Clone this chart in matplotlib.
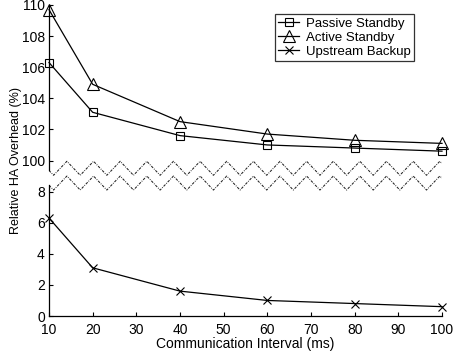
import matplotlib.pyplot as plt
import numpy as np

plt.rcParams['font.family'] = ['Liberation Sans', 'DejaVu Sans']
plt.rcParams['font.size'] = 10

# data
interval = [10, 20, 40, 60, 80, 100]
passive = [106.3, 103.1, 101.6, 101.0, 100.8, 100.6]
active = [109.7, 104.9, 102.5, 101.7, 101.3, 101.1]
upstream = [6.3, 3.1, 1.6, 1.0, 0.8, 0.6]

# upper block (100..110) is shifted down by 90 so it sits above 0..8
shift = 90
yticks = [0, 2, 4, 6, 8, 10, 12, 14, 16, 18, 20]
ylabels = ['0', '2', '4', '6', '8', '100', '102', '104', '106', '108', '110']

fig = plt.figure(figsize=(4.56, 3.52), dpi=100)
ax = fig.add_axes([49/456, 1-316/352, 393/456, 311/352])

ax.plot(interval, [v-shift for v in passive], color='black', linewidth=0.9,
        marker='s', markersize=6, markerfacecolor='none', markeredgewidth=0.8,
        label='Passive Standby', clip_on=False)
ax.plot(interval, [v-shift for v in active], color='black', linewidth=0.9,
        marker='^', markersize=8, markerfacecolor='none', markeredgewidth=0.8,
        label='Active Standby', clip_on=False)
ax.plot(interval, upstream, color='black', linewidth=0.9,
        marker='x', markersize=6, markeredgewidth=0.8,
        label='Upstream Backup', clip_on=False)

# zigzag break marks
zx = [10]
zy = [9.36]
k = 0
while True:
    t = 11.05 + 6.1*k
    if t > 100:
        break
    zx.append(t); zy.append(9.05)
    p = t + 3.05
    if p > 100:
        break
    zx.append(p); zy.append(9.95)
    k += 1
last_x, last_y = zx[-1], zy[-1]
frac = (100 - last_x) / 3.05
end_y = last_y + (9.95 - 9.05) * frac * (1 if last_y < 9.5 else -1)
zx.append(100); zy.append(end_y)
zstyle = (0, (2.5, 1.2, 0.8, 1.2))
ax.plot(zx, zy, color='#222222', linewidth=0.75, linestyle=zstyle)
ax.plot(zx, [v-0.95 for v in zy], color='#222222', linewidth=0.75, linestyle=zstyle)

# broken left axis
ax.spines['left'].set_visible(False)
ax.spines['top'].set_visible(False)
ax.spines['right'].set_visible(False)
ax.plot([10, 10], [9.36, 20], color='black', linewidth=0.9, clip_on=False)
ax.plot([10, 10], [0, 8.41], color='black', linewidth=0.9, clip_on=False)
ax.spines['bottom'].set_linewidth(0.9)

ax.set_xlim(10, 100)
ax.set_ylim(0, 20)
ax.set_xticks(range(10, 101, 10))
ax.set_yticks(yticks)
ax.set_yticklabels(ylabels)
ax.tick_params(direction='in', length=3, width=0.8)
ax.tick_params(axis='x', pad=5)
ax.tick_params(axis='y', pad=3)

ax.set_xlabel('Communication Interval (ms)', fontsize=10, labelpad=0)
ax.set_ylabel('Relative HA Overhead (%)', fontsize=9, labelpad=0)

leg = ax.legend(loc='upper right', bbox_to_anchor=((414-49)/393, 1-9/311),
                fontsize=9.5, frameon=True, fancybox=False, handlelength=1.6,
                borderpad=0.25, labelspacing=0.15, handletextpad=0.5, borderaxespad=0)
leg.get_frame().set_edgecolor('black')
leg.get_frame().set_linewidth(0.9)

plt.savefig('out.png', dpi=100)
